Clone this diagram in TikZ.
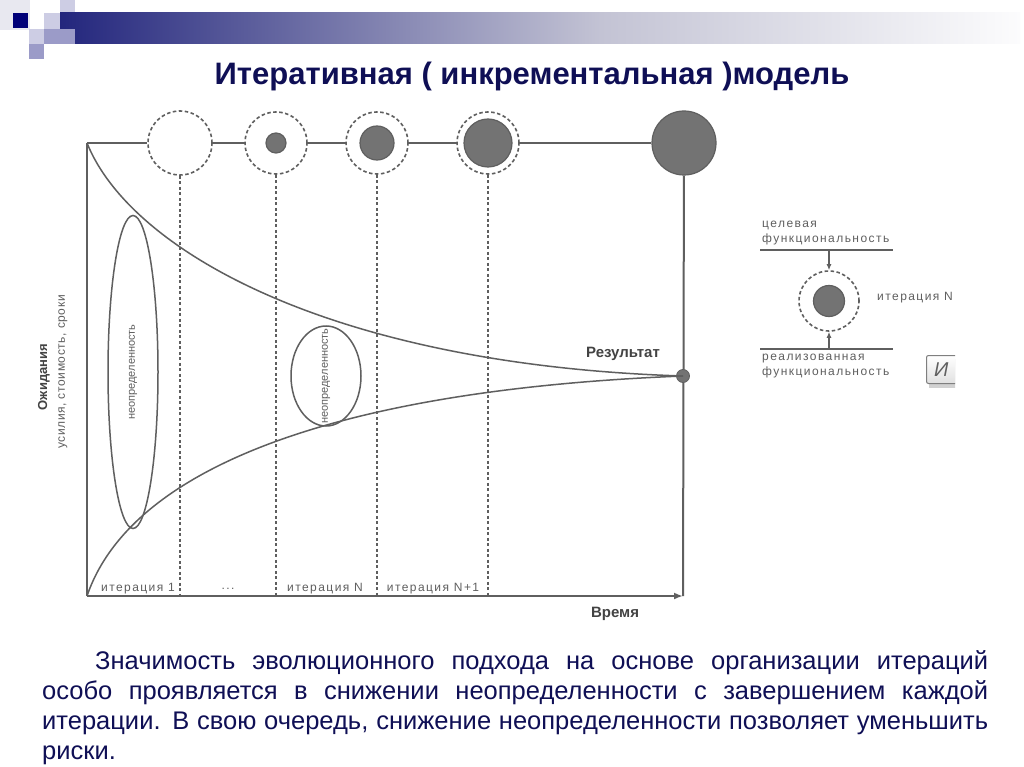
\documentclass[tikz,border=0pt]{standalone}
\usepackage{fontspec}
\setmainfont{Liberation Sans}
\newfontfamily\wideA{Liberation Sans}[LetterSpace=12]
\newfontfamily\wideB{Liberation Sans}[LetterSpace=5]
\usetikzlibrary{shapes.geometric,arrows.meta}
\definecolor{navy}{RGB}{15,15,85}
\definecolor{ln}{RGB}{95,95,95}
\definecolor{cf}{RGB}{115,115,115}
\definecolor{sq1}{RGB}{232,232,240}
\definecolor{sq2}{RGB}{205,205,228}
\definecolor{sq3}{RGB}{155,155,200}
\definecolor{sqn}{RGB}{0,0,120}
\definecolor{barA}{RGB}{35,38,125}
\definecolor{barB}{RGB}{195,195,212}
\definecolor{barC}{RGB}{252,252,253}
\begin{document}
\begin{tikzpicture}[x=1pt,y=-1pt,
  axisline/.style={draw=ln, line width=2pt},
  vdash/.style={draw=ln, line width=1.6pt, dash pattern=on 3pt off 2.5pt},
  dring/.style={circle, draw=ln, line width=1.6pt, dash pattern=on 3.5pt off 2.5pt, fill=white, inner sep=0pt},
  core/.style={circle, fill=cf, draw=ln, line width=1.2pt, inner sep=0pt},
  smalltxt/.style={font=\wideA\fontsize{12}{13}\selectfont, text=ln, inner sep=0pt},
  elltxt/.style={font=\fontsize{11}{12}\selectfont, text=ln, inner sep=0pt},
  boldlbl/.style={font=\fontsize{15}{16}\selectfont\bfseries, text=ln!70!black, inner sep=0pt},
  uncert/.style={ellipse, draw=ln, line width=1.5pt, inner sep=0pt},
  legarrow/.style={draw=ln, line width=1.2pt, -{Latex[length=6pt,width=5pt]}}
]
\useasboundingbox (0,0) rectangle (1024,767);
\fill[white] (0,0) rectangle (1024,767);

% --- header decoration ---
\fill[sq1] (0,0) rectangle (30,30);
\fill[sqn] (13,13) rectangle (28,28);
\fill[sq2] (44,13) rectangle (60,29);
\fill[sq2] (60,0) rectangle (75,13);
\fill[sq3] (60,13) rectangle (75,29);
\fill[sq2] (29,29) rectangle (44,44);
\fill[sq3] (44,29) rectangle (60,44);
\fill[sq3] (29,44) rectangle (44,59);
\shade[left color=barA, right color=barB] (60,13) rectangle (600,44);
\shade[left color=barB, right color=barC] (599.5,13) rectangle (1020,44);
\fill[sq3] (60,29) rectangle (75,44);

% --- title ---
\node[font=\fontsize{31}{34}\selectfont\bfseries, text=navy] (title) at (532,76) {Итеративная ( инкрементальная )модель};

% --- axes frame ---
\coordinate (tl) at (87,143);
\coordinate (bl) at (87,596);
\coordinate (br) at (683,596);
\draw[axisline] (tl) -- (bl);

% --- circles on the top line ---
\node[dring, minimum size=64pt] (c1) at (180,143) {};
\node[dring, minimum size=62pt] (c2) at (276,143) {};
\node[core, minimum size=20pt] (c2i) at (c2) {};
\node[dring, minimum size=62pt] (c3) at (377,143) {};
\node[core, minimum size=34pt] (c3i) at (c3) {};
\node[dring, minimum size=62pt] (c4) at (488,143) {};
\node[core, minimum size=48pt] (c4i) at (c4) {};
\node[core, minimum size=64pt] (cb) at (684,143) {};

\draw[axisline] (tl) -- (c1);
\draw[axisline] (c1) -- (c2);
\draw[axisline] (c2) -- (c3);
\draw[axisline] (c3) -- (c4);
\draw[axisline] (c4) -- (cb);
\draw[axisline] (cb) -- (br);

% --- dashed iteration lines ---
\coordinate (b1) at (180,596);
\coordinate (b2) at (276,596);
\coordinate (b3) at (377,596);
\coordinate (b4) at (488,596);
\draw[vdash] (c1) -- (b1);
\draw[vdash] (c2) -- (b2);
\draw[vdash] (c3) -- (b3);
\draw[vdash] (c4) -- (b4);

\draw[axisline, -{Latex[length=9pt,width=7pt]}] (bl) -- (br);

% --- convergence curves ---
\node[circle, fill=cf, draw=ln, line width=0.8pt, minimum size=13pt, inner sep=0pt] (res) at (683,376) {};
\draw[draw=ln, line width=1.5pt] (tl) .. controls (130,250) and (330,365) .. (res.center);
\draw[draw=ln, line width=1.5pt] (bl) .. controls (130,470) and (330,390) .. (res.center);
\node[boldlbl] (reslbl) at (623,354) {Результат};

% --- uncertainty ellipses ---
\node[uncert, minimum width=50pt, minimum height=313pt] (u1) at (133,372) {};
\node[elltxt, rotate=90] (u1t) at (u1) {неопределенность};
\node[uncert, minimum width=70pt, minimum height=100pt] (u2) at (326,376) {};
\node[elltxt, rotate=90] (u2t) at (u2) {неопределенность};

% --- axis labels ---
\node[font=\fontsize{13}{14}\selectfont\bfseries, text=ln!70!black, inner sep=0pt, rotate=90] (ylab) at (44,377) {Ожидания};
\node[font=\wideB\fontsize{12}{13}\selectfont, text=ln, inner sep=0pt, rotate=90] (ysub) at (63,372) {усилия, стоимость, сроки};
\node[boldlbl] (xlab) at (615,614) {Время};

\node[smalltxt] (it1) at (138,589) {итерация 1};
\node[smalltxt] (itd) at (228,589) {...};
\node[smalltxt] (itn) at (325,589) {итерация N};
\node[smalltxt] (itn1) at (433,589) {итерация N+1};

% --- legend ---
\begin{scope}
\clip (740,195) rectangle (955,400);
\node[smalltxt, anchor=west] (lg1) at (762,225) {целевая};
\node[smalltxt, anchor=west] (lg2) at (762,239) {функциональность};
\coordinate (lu1) at (760,250);
\coordinate (lu2) at (893,250);
\draw[ln, line width=1.5pt] (lu1) -- (lu2);
\node[dring, minimum size=60pt] (lc) at (829,301) {};
\node[core, minimum size=31pt] (lci) at (lc) {};
\coordinate (la) at (829,250);
\draw[legarrow] (la) -- (lc);
\coordinate (ll1) at (760,349);
\coordinate (ll2) at (893,349);
\draw[ln, line width=1.5pt] (ll1) -- (ll2);
\coordinate (lb) at (829,349);
\draw[legarrow] (lb) -- (lc);
\node[smalltxt, anchor=west] (lgn) at (877,298) {итерация N};
\node[smalltxt, anchor=west] (lg3) at (762,359) {реализованная};
\node[smalltxt, anchor=west] (lg4) at (762,372) {функциональность};
\fill[black!18] (929,359) rectangle (970,388);
\node[draw=ln!80, line width=1pt, rounded corners=2pt, top color=white, bottom color=black!12,
      minimum width=40pt, minimum height=28pt, inner sep=0pt, anchor=north west] (btn) at (926,355) {};
\node[font=\fontsize{20}{20}\selectfont\itshape, text=ln, anchor=west, inner sep=0pt] (btnt) at (934,370) {И};
\end{scope}

% --- bottom paragraph ---
\node[anchor=north west, inner sep=0pt, text width=946pt, align=justify, text=navy,
      font=\fontsize{25.5}{30}\selectfont] (para) at (42,650)
  {\hspace*{53pt}Значимость эволюционного подхода на основе организации итераций\linebreak
   особо проявляется в снижении неопределенности с завершением каждой\linebreak
   итерации. В свою очередь, снижение неопределенности позволяет уменьшить\linebreak
   риски.};
\end{tikzpicture}
\end{document}
